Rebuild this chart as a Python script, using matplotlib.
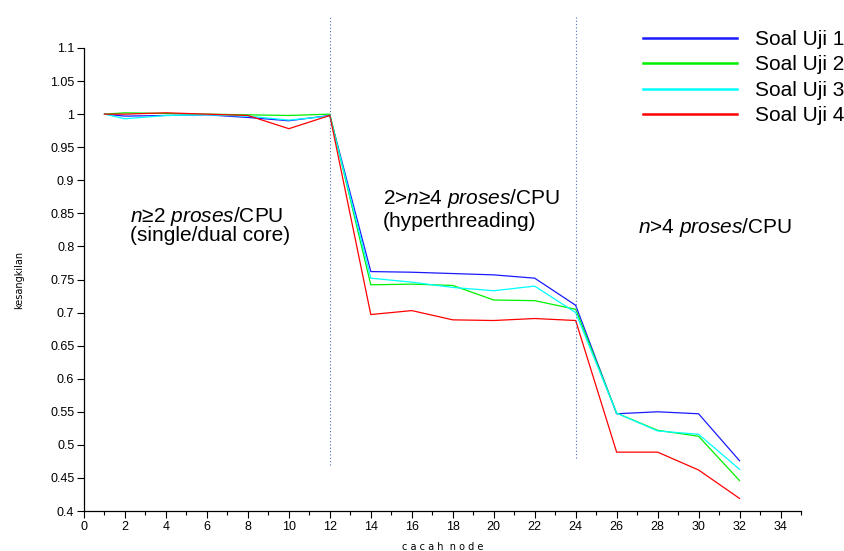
import numpy as np
import matplotlib
matplotlib.use('Agg')
import matplotlib.pyplot as plt
from matplotlib.ticker import MultipleLocator

plt.rcParams['font.family'] = ['Liberation Sans', 'DejaVu Sans']
plt.rcParams['mathtext.fontset'] = 'custom'
plt.rcParams['mathtext.it'] = 'Liberation Sans:italic'
plt.rcParams['mathtext.rm'] = 'Liberation Sans'

# data
nodes = [1, 2, 4, 6, 8, 10, 12, 14, 16, 18, 20, 22, 24, 26, 28, 30, 32]
uji1 = [1.0, 0.997, 0.998, 0.999, 0.995, 0.990, 0.998, 0.762, 0.761, 0.759,
        0.757, 0.752, 0.711, 0.547, 0.550, 0.547, 0.476]
uji2 = [1.0, 1.002, 1.001, 1.000, 0.999, 0.998, 1.000, 0.742, 0.743, 0.741,
        0.719, 0.718, 0.705, 0.548, 0.522, 0.513, 0.446]
uji3 = [1.0, 0.993, 0.998, 0.999, 0.997, 0.991, 0.997, 0.752, 0.746, 0.738,
        0.733, 0.740, 0.700, 0.548, 0.521, 0.516, 0.463]
uji4 = [1.0, 1.000, 1.002, 1.000, 0.998, 0.978, 0.998, 0.697, 0.703, 0.689,
        0.688, 0.691, 0.688, 0.489, 0.489, 0.462, 0.419]
labels = ['Soal Uji 1', 'Soal Uji 2', 'Soal Uji 3', 'Soal Uji 4']
colors = ['#1a1aff', '#00f000', '#00ffff', '#ff0000']

ytick_vals = [0.4, 0.45, 0.5, 0.55, 0.6, 0.65, 0.7, 0.75, 0.8, 0.85, 0.9, 0.95, 1.0, 1.05, 1.1]
ytick_labels = ['0.4', '0.45', '0.5', '0.55', '0.6', '0.65', '0.7', '0.75', '0.8',
                '0.85', '0.9', '0.95', '1', '1.05', '1.1']
xtick_vals = list(range(0, 35, 2))

# region separators (x, lower end, upper end)
separators = [(12, 0.47, 1.15), (24, 0.48, 1.15)]

fig = plt.figure(figsize=(8.44, 5.51), dpi=100)
ax = fig.add_axes([84/844, 1-511/551, (801-84)/844, (511-48)/551])

for y, c, lab in zip([uji1, uji2, uji3, uji4], colors, labels):
    ax.plot(nodes, y, color=c, lw=0.9, label=lab)

for xs, y0, y1 in separators:
    ax.plot([xs, xs], [y0, y1], color='#4a6cc0', lw=0.8, ls=(0, (1, 2)), clip_on=False)

ax.set_xlim(0, 35)
ax.set_ylim(0.4, 1.1)
ax.set_xticks(xtick_vals)
ax.set_xticklabels([str(v) for v in xtick_vals])
ax.xaxis.set_minor_locator(MultipleLocator(1))
ax.set_yticks(ytick_vals)
ax.set_yticklabels(ytick_labels)
ax.tick_params(axis='both', which='major', direction='out', length=5, width=0.8, labelsize=9, pad=2)
ax.tick_params(axis='x', which='minor', direction='out', length=3, width=0.8)
for s in ['top', 'right']:
    ax.spines[s].set_visible(False)
for s in ['left', 'bottom']:
    ax.spines[s].set_linewidth(0.9)

ax.set_xlabel('c a c a h  n o d e', fontsize=7, family='DejaVu Sans', labelpad=7)
ax.set_ylabel('kesangkilan', fontsize=7, family='DejaVu Sans', labelpad=19)

fs = 15
ax.text(2.24, 0.837, r'$\mathit{n}$≥2 $\mathit{proses}$/CPU', fontsize=fs, va='baseline')
ax.text(2.24, 0.808, '(single/dual core)', fontsize=fs, va='baseline')
ax.text(14.59, 0.864, r'2>$\mathit{n}$≥4 $\mathit{proses}$/CPU', fontsize=fs, va='baseline')
ax.text(14.59, 0.829, '(hyperthreading)', fontsize=fs, va='baseline')
ax.text(27.02, 0.820, r'$\mathit{n}$>4 $\mathit{proses}$/CPU', fontsize=fs, va='baseline')

leg = fig.legend(loc='upper left', bbox_to_anchor=(643/844, 1-30/551), frameon=False,
                 fontsize=15, handlelength=4.52, handletextpad=0.87, labelspacing=0.31,
                 borderpad=0, borderaxespad=0)
for h in leg.get_lines():
    h.set_linewidth(1.8)

fig.savefig('out.png', dpi=100)
